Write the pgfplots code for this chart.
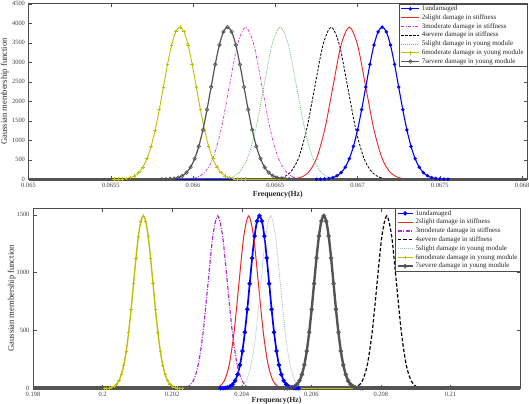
\documentclass[border=0pt]{standalone}
\usepackage{fontspec}
\setmainfont{Liberation Serif}
\usepackage{pgfplots}
\pgfplotsset{compat=1.18}
\usepackage{pgfplotstable}

\definecolor{cblue}{rgb}{0,0,1}
\definecolor{cred}{rgb}{0.92,0.15,0.15}
\definecolor{cmag}{rgb}{0.82,0.2,0.82}
\definecolor{cgreen}{rgb}{0.42,0.72,0.42}
\definecolor{cyel}{rgb}{0.75,0.75,0}
\definecolor{cgray}{rgb}{0.33,0.33,0.33}
\definecolor{clight}{rgb}{0.66,0.74,0.74}

% top panel, line series 2-5
\pgfplotstableread{
y x2 x3 x4 x5
1 0.06655 0.06592 0.06644 0.06613
9 0.06660 0.06597 0.06649 0.06618
43 0.06665 0.06602 0.06654 0.06623
171 0.06670 0.06607 0.06659 0.06628
528 0.06675 0.06612 0.06664 0.06633
1266 0.06680 0.06617 0.06669 0.06638
2365 0.06685 0.06622 0.06674 0.06643
3442 0.06690 0.06627 0.06679 0.06648
3900 0.06695 0.06632 0.06684 0.06653
3442 0.06700 0.06637 0.06689 0.06658
2365 0.06705 0.06642 0.06694 0.06663
1266 0.06710 0.06647 0.06699 0.06668
528 0.06715 0.06652 0.06704 0.06673
171 0.06720 0.06657 0.06709 0.06678
43 0.06725 0.06662 0.06714 0.06683
9 0.06730 0.06667 0.06719 0.06688
1 0.06735 0.06672 0.06724 0.06693
}\topdata

% top panel, marked series 1, 6, 7
\pgfplotstableread{
y x1 x6 x7
1 0.06675 0.06552 0.06581
3 0.066775 0.065545 0.065835
9 0.0668 0.06557 0.06586
20 0.066825 0.065595 0.065885
43 0.06685 0.06562 0.06591
89 0.066875 0.065645 0.065935
171 0.0669 0.06567 0.06596
310 0.066925 0.065695 0.065985
528 0.06695 0.06572 0.06601
843 0.066975 0.065745 0.066035
1266 0.067 0.06577 0.06606
1786 0.067025 0.065795 0.066085
2365 0.06705 0.06582 0.06611
2944 0.067075 0.065845 0.066135
3442 0.0671 0.06587 0.06616
3780 0.067125 0.065895 0.066185
3900 0.06715 0.06592 0.06621
3780 0.067175 0.065945 0.066235
3442 0.0672 0.06597 0.06626
2944 0.067225 0.065995 0.066285
2365 0.06725 0.06602 0.06631
1786 0.067275 0.066045 0.066335
1266 0.0673 0.06607 0.06636
843 0.067325 0.066095 0.066385
528 0.06735 0.06612 0.06641
310 0.067375 0.066145 0.066435
171 0.0674 0.06617 0.06646
89 0.067425 0.066195 0.066485
43 0.06745 0.06622 0.06651
20 0.067475 0.066245 0.066535
9 0.0675 0.06627 0.06656
3 0.067525 0.066295 0.066585
1 0.06755 0.06632 0.06661
}\topdense

% bottom panel, line series 2-5
\pgfplotstableread{
y x2 x3 x4 x5
0.5 0.20308 0.20219 0.20705 0.20371
3 0.20322 0.20233 0.20719 0.20385
17 0.20336 0.20247 0.20733 0.20399
65 0.20350 0.20261 0.20747 0.20413
202 0.20364 0.20275 0.20761 0.20427
484 0.20378 0.20289 0.20775 0.20441
904 0.20392 0.20303 0.20789 0.20455
1315 0.20406 0.20317 0.20803 0.20469
1490 0.20420 0.20331 0.20817 0.20483
1315 0.20434 0.20345 0.20831 0.20497
904 0.20448 0.20359 0.20845 0.20511
484 0.20462 0.20373 0.20859 0.20525
202 0.20476 0.20387 0.20873 0.20539
65 0.20490 0.20401 0.20887 0.20553
17 0.20504 0.20415 0.20901 0.20567
3 0.20518 0.20429 0.20915 0.20581
0.5 0.20532 0.20443 0.20929 0.20595
}\botdata

% bottom panel, marked series 1, 6, 7
\pgfplotstableread{
y x1 x6 x7
0.5 0.20339 0.20005 0.20524
1 0.20346 0.20012 0.20531
3 0.20353 0.20019 0.20538
8 0.20360 0.20026 0.20545
17 0.20367 0.20033 0.20552
34 0.20374 0.20040 0.20559
65 0.20381 0.20047 0.20566
119 0.20388 0.20054 0.20573
202 0.20395 0.20061 0.20580
322 0.20402 0.20068 0.20587
484 0.20409 0.20075 0.20594
682 0.20416 0.20082 0.20601
904 0.20423 0.20089 0.20608
1125 0.20430 0.20096 0.20615
1315 0.20437 0.20103 0.20622
1444 0.20444 0.20110 0.20629
1490 0.20451 0.20117 0.20636
1444 0.20458 0.20124 0.20643
1315 0.20465 0.20131 0.20650
1125 0.20472 0.20138 0.20657
904 0.20479 0.20145 0.20664
682 0.20486 0.20152 0.20671
484 0.20493 0.20159 0.20678
322 0.20500 0.20166 0.20685
202 0.20507 0.20173 0.20692
119 0.20514 0.20180 0.20699
65 0.20521 0.20187 0.20706
34 0.20528 0.20194 0.20713
17 0.20535 0.20201 0.20720
8 0.20542 0.20208 0.20727
3 0.20549 0.20215 0.20734
1 0.20556 0.20222 0.20741
0.5 0.20563 0.20229 0.20748
}\botdense

\pgfplotsset{
  myax/.style={
    scale only axis, clip=false, anchor=south west,
    axis line style={black!70}, tick style={black!70}, major tick length=3.5bp,
    tick label style={font=\fontsize{6.5}{7}\selectfont, text=black!75},
    scaled x ticks=false, scaled y ticks=false,
    /pgf/number format/1000 sep={}, /pgf/number format/assume math mode=true,
    label style={text=black!85},
    legend cell align=left,
    legend style={at={(1,1)}, anchor=north east, draw=black!70, fill=white,
      font=\fontsize{7}{8}\selectfont, text=black!85,
      inner xsep=1.5bp, inner ysep=0.5bp, row sep=0bp, column sep=1bp,
      nodes={inner sep=0.8bp, text height=5.4bp, text depth=1.8bp}},
  },
  lineimg/.style={legend image code/.code={\draw[##1] (0bp,0bp) -- (18bp,0bp);}},
  lineimgb/.style={legend image code/.code={\draw[##1] (0bp,0bp) -- (15bp,0bp);}},
  markimg/.style={legend image code/.code={\draw[##1,mark=none] (0bp,0bp) -- (18bp,0bp); \draw[##1] plot coordinates {(9bp,0bp)};}},
  markimgb/.style={legend image code/.code={\draw[##1,mark=none] (0bp,0bp) -- (15bp,0bp); \draw[##1] plot coordinates {(7.5bp,0bp)};}},
}

\begin{document}
\begin{tikzpicture}
\useasboundingbox (0bp,0bp) rectangle (529bp,404bp);

% ---------------- top panel ----------------
\begin{axis}[myax,
  at={(28.5bp,224.7bp)}, width=498.5bp, height=175.6bp,
  xmin=0.065, xmax=0.06803, ymin=0, ymax=4500,
  xtick={0.065,0.0655,0.066,0.0665,0.067,0.0675,0.068},
  xticklabels={0.065,0.0655,0.066,0.0665,0.067,0.0675,0.068},
  ytick={0,500,1000,1500,2000,2500,3000,3500,4000,4500},
  xlabel={\textbf{Frequency(Hz)}},
  ylabel={Gaussian membership function},
  xlabel style={at={(axis description cs:0.5,-0.087)}, anchor=center, font=\fontsize{7.8}{9}\selectfont},
  ylabel style={at={(axis description cs:-0.0477,0.5)}, anchor=center, font=\fontsize{8.6}{10}\selectfont},
]
\addplot[cblue, line width=1.1bp, smooth, mark=*, mark size=1.1bp, mark options={solid}, markimg]
  table[x=x1,y=y]{\topdense};
\addlegendentry{1undamaged}
\addplot[cred, line width=0.9bp, smooth, lineimg] table[x=x2,y=y]{\topdata};
\addlegendentry{2slight damage in stiffness}
\addplot[cmag, line width=0.7bp, smooth, dash pattern=on 3bp off 1.5bp on 1bp off 1.5bp, lineimg] table[x=x3,y=y]{\topdata};
\addlegendentry{3moderate damage in stiffness}
\addplot[black, line width=0.8bp, smooth, dash pattern=on 2.5bp off 1.5bp, lineimg] table[x=x4,y=y]{\topdata};
\addlegendentry{4severe damage in stiffness}
\addplot[cgreen, line width=0.7bp, smooth, dash pattern=on 1bp off 1bp, lineimg] table[x=x5,y=y]{\topdata};
\addlegendentry{5slight damage in young module}
\addplot[cyel, line width=0.9bp, smooth, mark=+, mark size=1.8bp, mark options={solid, line width=0.6bp}, markimg]
  table[x=x6,y=y]{\topdense};
\addlegendentry{6moderate damage in young module}
\addplot[cgray, line width=1.2bp, smooth, mark=o, mark size=1.8bp, mark options={solid, line width=0.6bp}, markimg]
  table[x=x7,y=y]{\topdense};
\addlegendentry{7severe damage in young module\hspace*{9bp}}
% zero-level parts of the series
\addplot[cgray, line width=3bp, forget plot] coordinates {(0.065,0) (0.06803,0)};
\addplot[cblue, line width=1.3bp, forget plot] coordinates {(0.06588,0) (0.06624,0)};
\addplot[cyel, line width=1.3bp, forget plot] coordinates {(0.06624,0) (0.06657,0)};
\end{axis}

% ---------------- bottom panel ----------------
\begin{axis}[myax,
  at={(33bp,15.7bp)}, width=487bp, height=180bp,
  xmin=0.198, xmax=0.212, ymin=0, ymax=1555,
  xtick={0.198,0.2,0.202,0.204,0.206,0.208,0.21},
  xticklabels={0.198,0.2,0.202,0.204,0.206,0.208,0.21},
  ytick={0,500,1000,1500},
  xlabel={\textbf{Frequency(Hz)}},
  ylabel={Gaussian membership function},
  xlabel style={at={(axis description cs:0.5,-0.0706)}, anchor=center, font=\fontsize{7.8}{9}\selectfont},
  ylabel style={at={(axis description cs:-0.0437,0.5)}, anchor=center, font=\fontsize{8.6}{10}\selectfont},
]
\addplot[cblue, line width=1.7bp, smooth, mark=*, mark size=1.2bp, mark options={solid}, markimgb]
  table[x=x1,y=y]{\botdense};
\addlegendentry{1undamaged}
\addplot[cred, line width=1bp, smooth, lineimgb] table[x=x2,y=y]{\botdata};
\addlegendentry{2slight damage in stiffness}
\addplot[cmag!85!blue, line width=1.2bp, smooth, dash pattern=on 4bp off 1.5bp on 1bp off 1.5bp, lineimgb] table[x=x3,y=y]{\botdata};
\addlegendentry{3moderate damage in stiffness}
\addplot[black, line width=1.2bp, smooth, dash pattern=on 3.5bp off 2bp, lineimgb] table[x=x4,y=y]{\botdata};
\addlegendentry{4severe damage in stiffness}
\addplot[clight, line width=0.8bp, smooth, dash pattern=on 1bp off 1bp, lineimgb] table[x=x5,y=y]{\botdata};
\addlegendentry{5slight damage in young module}
\addplot[cyel, line width=1.4bp, smooth, mark=+, mark size=1.6bp, mark options={solid, line width=0.6bp}, markimgb]
  table[x=x6,y=y]{\botdense};
\addlegendentry{6moderate damage in young module}
\addplot[cgray, line width=2.4bp, smooth, mark=o, mark size=1.9bp, mark options={solid, line width=0.7bp}, markimgb]
  table[x=x7,y=y]{\botdense};
\addlegendentry{7severe damage in young module\hspace*{8bp}}
\addplot[cgray, line width=4bp, forget plot] coordinates {(0.198,0) (0.212,0)};
\addplot[cyel, line width=1.5bp, forget plot] coordinates {(0.2055,0) (0.2072,0)};
\end{axis}
\end{tikzpicture}
\end{document}
